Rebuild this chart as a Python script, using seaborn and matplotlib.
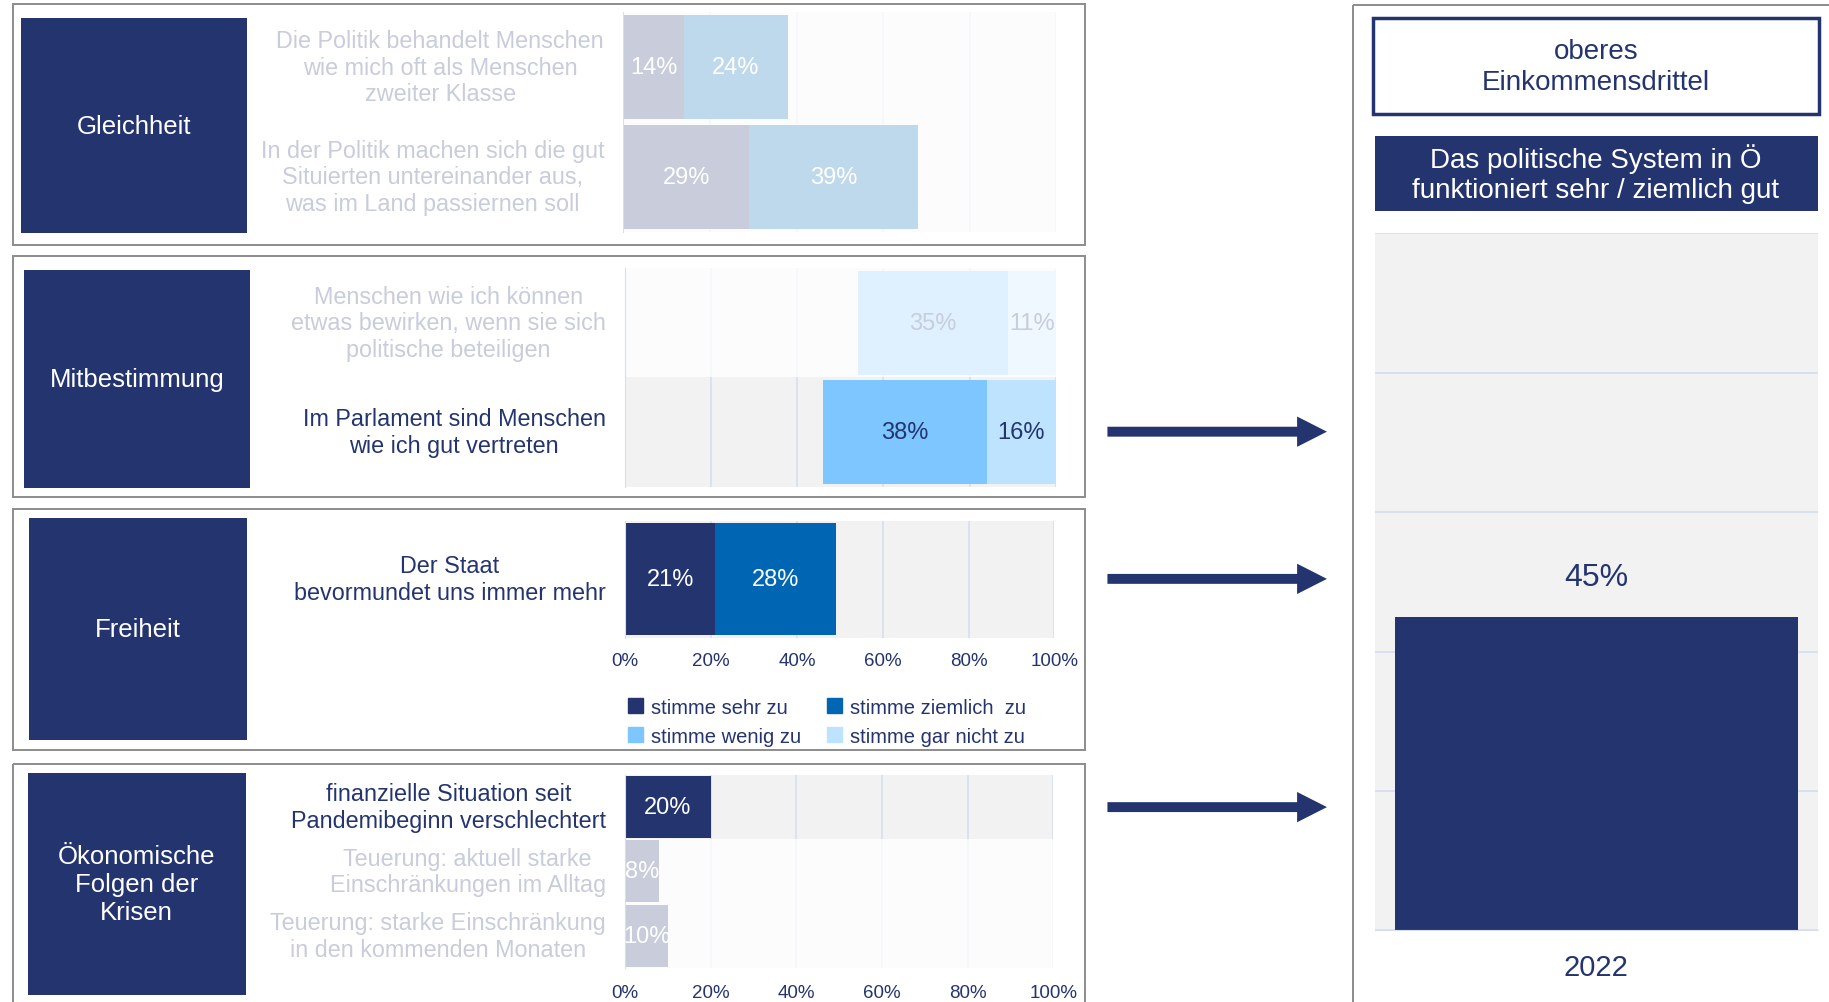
import numpy as np
import pandas as pd
import matplotlib
matplotlib.use("Agg")
import matplotlib.pyplot as plt
import matplotlib.patches as mpatches
from matplotlib.colors import to_rgb
import seaborn as sns

# --- DATA ---
gleich_items = ["Die Politik behandelt Menschen\nwie mich oft als Menschen\nzweiter Klasse",
                "In der Politik machen sich die gut\nSituierten untereinander aus,\nwas im Land passiernen soll"]
gleich_sehr = [14, 29]
gleich_ziemlich = [24, 39]
gleich_faded = [True, True]

mit_items = ["Menschen wie ich können\netwas bewirken, wenn sie sich\npolitische beteiligen",
             "Im Parlament sind Menschen\nwie ich gut vertreten"]
mit_wenig = [35, 38]
mit_garnicht = [11, 16]
mit_faded = [True, False]

frei_items = ["Der Staat\nbevormundet uns immer mehr"]
frei_sehr = [21]
frei_ziemlich = [28]
frei_faded = [False]

oek_items = ["finanzielle Situation seit\nPandemibeginn verschlechtert",
             "Teuerung: aktuell starke\nEinschränkungen im Alltag",
             "Teuerung: starke Einschränkung\nin den kommenden Monaten"]
oek_sehr = [20, 8, 10]
oek_faded = [False, True, True]

headings = ["Gleichheit", "Mitbestimmung", "Freiheit", "Ökonomische\nFolgen der\nKrisen"]
legend_labels = ["stimme sehr zu", "stimme ziemlich  zu", "stimme wenig zu", "stimme gar nicht zu"]
x_ticks = [0, 20, 40, 60, 80, 100]

system_years = ["2022"]
system_values = [45]
group_title = "oberes\nEinkommensdrittel"
system_title = "Das politische System in Ö\nfunktioniert sehr / ziemlich gut"

# --- STYLE ---
NAVY = "#24346F"
MID = "#0066B3"
LIGHT = "#7DC6FF"
PALE = "#BDE3FF"
BAND = "#F2F2F2"
GRID = "#D6DFF0"
BORDER = "#8C8C8C"

sns.set_style("white")
plt.rcParams["font.family"] = ["Liberation Sans", "DejaVu Sans"]

W, H = 1568, 860  # layout units (reference pixels)


def fade(c, a=0.25):
    r = np.array(to_rgb(c))
    return tuple(a * r + (1 - a))


def fig_rect(x0, y0, x1, y1):
    return [x0 / W, 1 - y1 / H, (x1 - x0) / W, (y1 - y0) / H]


def draw_stack(ax, items, segments, faded, from_right=False, bar_w=0.95):
    n = len(items)
    df = pd.DataFrame({"item": items})
    for name, vals, _, _ in segments:
        df[name] = vals
    total = np.sum([np.array(v) for _, v, _, _ in segments], axis=0)
    left = 100 - total if from_right else np.zeros(n)

    for i in range(n):
        a = 0.25 if faded[i] else 1
        ax.axhspan(i - 0.5, i + 0.5, color=fade(BAND, a), lw=0, zorder=0)
        ax.vlines(x_ticks[1:], i - 0.5, i + 0.5, color=fade(GRID, a), lw=1.2, zorder=0.5)

    for name, vals, color, txt in segments:
        sns.barplot(data=df, y="item", x=name, order=items, orient="y", left=left.copy(),
                    color=color, saturation=1, width=bar_w, errorbar=None, ax=ax,
                    linewidth=0, zorder=2)
        cont = ax.containers[-1]
        for i, bar in enumerate(cont):
            if faded[i]:
                bar.set_facecolor(fade(color))
        texts = ax.bar_label(cont, labels=[f"{v}%" for v in vals], label_type="center",
                             fontsize=17)
        for i, t in enumerate(texts):
            t.set_color(fade(txt) if faded[i] else txt)
        left = left + np.array(vals)

    ax.set_xlim(0, 100)
    ax.set_ylim(n - 0.5, -0.5)
    ax.set(xlabel="", ylabel="")
    ax.set_facecolor("none")
    for s in ["top", "right", "bottom"]:
        ax.spines[s].set_visible(False)
    ax.spines["left"].set_color(GRID)
    ax.set_xticks(x_ticks)
    ax.set_xticklabels([f"{t}%" for t in x_ticks])
    ax.tick_params(axis="both", length=0)
    ax.tick_params(axis="y", pad=14)
    for lbl, f in zip(ax.get_yticklabels(), faded):
        lbl.set_color(fade(NAVY) if f else NAVY)
        lbl.set_fontsize(16.8)
        lbl.set_multialignment("center")
        lbl.set_verticalalignment("center")
        lbl.set_linespacing(1.2)


fig = plt.figure(figsize=(18.29, 10.03), dpi=100)

# background layer: panel frames, heading boxes, arrows
bg = fig.add_axes([0, 0, 1, 1], zorder=-1)
bg.set_xlim(0, W)
bg.set_ylim(H, 0)
bg.axis("off")

panels = [(4.3, 211), (220.6, 427), (437.2, 644.3), (655.9, 900)]
for y0, y1 in panels:
    bg.add_patch(mpatches.Rectangle((10.8, y0), 930 - 10.8, y1 - y0, fill=False,
                                    ec=BORDER, lw=1.4))

boxes = [(18, 16.3, 212, 201), (21, 232.3, 214, 419), (25, 445, 212, 635), (24, 663.6, 210.5, 853.6)]
for (x0, y0, x1, y1), txt in zip(boxes, headings):
    bg.add_patch(mpatches.Rectangle((x0, y0), x1 - x0, y1 - y0, color=NAVY, lw=0))
    bg.text((x0 + x1) / 2, (y0 + y1) / 2, txt, ha="center", va="center", color="white",
            fontsize=18.5, linespacing=1.2)

# right panel
bg.add_patch(mpatches.Rectangle((1159.5, 4.9), 600, 900, fill=False, ec=BORDER, lw=1.4))
bg.add_patch(mpatches.Rectangle((1177.2, 16.3), 1559 - 1177.2, 98.6 - 16.3, fill=False,
                                ec=NAVY, lw=2.5))
bg.text(1368, 57.5, group_title, ha="center", va="center", color=NAVY, fontsize=20,
        linespacing=1.25)
bg.add_patch(mpatches.Rectangle((1178.4, 117.4), 1558.6 - 1178.4, 182 - 117.4, color=NAVY, lw=0))
bg.text(1368, 149, system_title, ha="center", va="center", color="white", fontsize=20,
        linespacing=1.2)

for ya in [371, 497.2, 692.9]:
    bg.add_patch(mpatches.FancyArrow(949.4, ya, 188.2, 0, width=8.5, head_width=26,
                                     head_length=25.6, length_includes_head=True,
                                     color=NAVY, lw=0))

# --- Panel 1: Gleichheit ---
ax1 = fig.add_axes(fig_rect(534.5, 11.5, 905.5, 199.5))
draw_stack(ax1, gleich_items,
           [("sehr", gleich_sehr, NAVY, "white"), ("ziemlich", gleich_ziemlich, MID, "white")],
           gleich_faded)
ax1.tick_params(axis="x", labelbottom=False)

# --- Panel 2: Mitbestimmung ---
ax2 = fig.add_axes(fig_rect(536, 230.5, 905, 418.5))
draw_stack(ax2, mit_items,
           [("wenig", mit_wenig, LIGHT, NAVY), ("garnicht", mit_garnicht, PALE, NAVY)],
           mit_faded, from_right=True)
ax2.tick_params(axis="x", labelbottom=False)

# --- Panel 3: Freiheit ---
ax3 = fig.add_axes(fig_rect(536, 447.5, 904, 547.5))
draw_stack(ax3, frei_items,
           [("sehr", frei_sehr, NAVY, "white"), ("ziemlich", frei_ziemlich, MID, "white")],
           frei_faded, bar_w=0.96)
ax3.tick_params(axis="x", labelsize=13.5, labelcolor=NAVY, pad=10.5)

handles = [mpatches.Patch(color=c) for c in [NAVY, LIGHT, MID, PALE]]
labels = [legend_labels[0], legend_labels[2], legend_labels[1], legend_labels[3]]
fig.legend(handles, labels, ncol=2, loc="upper left", bbox_to_anchor=(538 / W, 1 - 599 / H),
           frameon=False, fontsize=14.5, labelcolor=NAVY, handlelength=0.75, handleheight=0.75,
           handletextpad=0.4, columnspacing=1.3, labelspacing=0.5, borderpad=0,
           borderaxespad=0)

# --- Panel 4: Ökonomische Folgen ---
ax4 = fig.add_axes(fig_rect(536, 665, 903, 831))
draw_stack(ax4, oek_items, [("sehr", oek_sehr, NAVY, "white")], oek_faded, bar_w=0.96)
ax4.tick_params(axis="x", labelsize=13.5, labelcolor=NAVY, pad=11.5)

# --- Right chart ---
axr = fig.add_axes(fig_rect(1178.4, 200.9, 1558.6, 798.6))
axr.set_facecolor(BAND)
sns.barplot(x=system_years, y=system_values, color=NAVY, saturation=1, width=0.91,
            errorbar=None, ax=axr, linewidth=0, zorder=2)
axr.set_ylim(0, 100)
axr.set_yticks(range(0, 101, 20))
axr.yaxis.grid(True, color=GRID, lw=1.3)
axr.set_axisbelow(True)
axr.tick_params(axis="y", left=False, labelleft=False)
axr.tick_params(axis="x", length=0, labelsize=21, labelcolor=NAVY, pad=16)
for s in ["top", "left", "right"]:
    axr.spines[s].set_visible(False)
axr.spines["bottom"].set_color(GRID)
axr.bar_label(axr.containers[0], labels=[f"{v}%" for v in system_values], padding=18,
              fontsize=23, color=NAVY)
axr.set(xlabel="", ylabel="")

fig.savefig("out.png", dpi=100)
